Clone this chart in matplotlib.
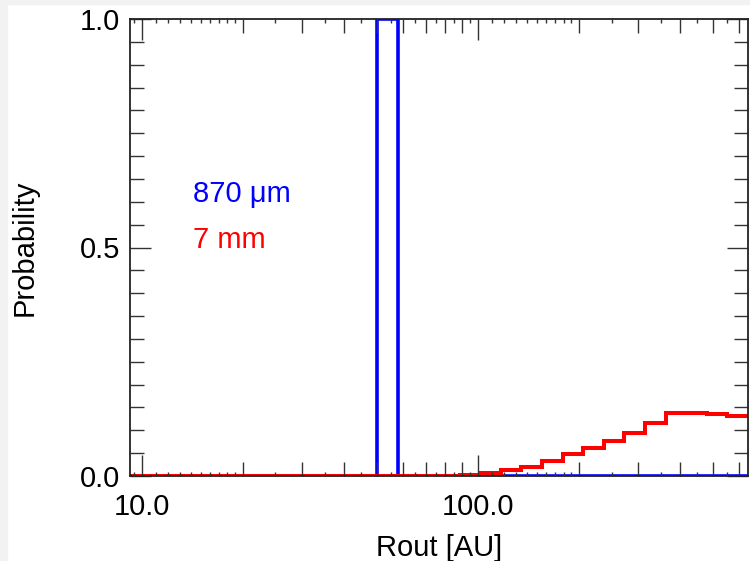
import matplotlib
matplotlib.use("Agg")
import matplotlib.pyplot as plt
from matplotlib.patches import Rectangle
from matplotlib.ticker import FixedLocator, FixedFormatter, NullFormatter

plt.rcParams['font.family'] = ['Liberation Sans', 'DejaVu Sans']

# log-spaced bin edges for Rout [AU]
bin_edges = [9.23, 10.62, 12.24, 14.09, 16.23, 18.69, 21.52, 24.78, 28.54,
             32.86, 37.84, 43.58, 50.18, 57.79, 66.55, 76.64, 88.26, 101.6,
             117.0, 134.8, 155.2, 178.7, 205.9, 237.1, 273.0, 314.5, 362.2,
             417.1, 480.3, 553.1, 636.8]

# probability per bin
prob_870um = [0, 0, 0, 0, 0, 0, 0, 0, 0, 0, 0, 0, 1.0, 0, 0, 0, 0, 0,
              0, 0, 0, 0, 0, 0, 0, 0, 0, 0, 0, 0]
prob_7mm = [0, 0, 0, 0, 0, 0, 0, 0, 0, 0, 0, 0, 0, 0, 0, 0.001, 0.002,
            0.0066, 0.0124, 0.020, 0.0335, 0.048, 0.0605, 0.0766, 0.0933,
            0.1167, 0.1386, 0.1386, 0.135, 0.1306]

x_major = [10, 100]
x_major_labels = ['10.0', '100.0']
x_minor = [20, 30, 40, 50, 60, 70, 80, 90, 200, 300, 400, 500, 600]
x_tiny = [9.5, 11, 12, 13, 14, 15, 16, 17, 18, 19, 25, 35, 45, 55, 65, 75,
          85, 95, 110, 120, 130, 140, 150, 160, 170, 180, 190, 250, 350,
          450, 550]
y_major = [0.0, 0.5, 1.0]
y_major_labels = ['0.0', '0.5', '1.0']
y_minor = [0.05 * i for i in range(1, 20) if i != 10]

FS = 21

fig = plt.figure(figsize=(7.5, 5.61), dpi=100)
# light grey border strips like the original screenshot
fig.patches.append(Rectangle((0, 0), 7 / 750, 1, transform=fig.transFigure,
                             color='#f2f2f2', zorder=0))
fig.patches.append(Rectangle((0, 1 - 4 / 561), 1, 4 / 561,
                             transform=fig.transFigure, color='#f2f2f2', zorder=0))

pos = [130 / 750, 1 - 476 / 561, 618 / 750, 457 / 561]
ax = fig.add_axes(pos)

ax.stairs(prob_870um, bin_edges, color='#0000ff', lw=2.6, baseline=None)
ax.stairs(prob_7mm, bin_edges, color='#ff0000', lw=2.9, baseline=None)

ax.set_xscale('log')
ax.set_xlim(bin_edges[0], bin_edges[-1])
ax.set_ylim(0, 1.0)

ax.xaxis.set_major_locator(FixedLocator(x_major))
ax.xaxis.set_major_formatter(FixedFormatter(x_major_labels))
ax.xaxis.set_minor_locator(FixedLocator(x_minor))
ax.xaxis.set_minor_formatter(NullFormatter())
ax.yaxis.set_major_locator(FixedLocator(y_major))
ax.yaxis.set_major_formatter(FixedFormatter(y_major_labels))
ax.yaxis.set_minor_locator(FixedLocator(y_minor))

ax.tick_params(which='both', direction='in', top=True, right=True,
               color='#333333', width=1.0, labelsize=FS)
ax.tick_params(which='major', length=15)
ax.tick_params(which='minor', length=10)
ax.tick_params(axis='x', which='major', pad=12)
ax.tick_params(axis='y', which='major', pad=7)
for sp in ax.spines.values():
    sp.set_linewidth(1.3)
    sp.set_color('#222222')

# tiny ticks on the x axis (third tick level)
ax_t = fig.add_axes(pos, frameon=False)
ax_t.set_xscale('log')
ax_t.set_xlim(bin_edges[0], bin_edges[-1])
ax_t.set_ylim(0, 1.0)
ax_t.xaxis.set_major_locator(FixedLocator(x_tiny))
ax_t.xaxis.set_minor_locator(FixedLocator([]))
ax_t.tick_params(axis='x', direction='in', top=True, bottom=True, length=3,
                 width=1.0, color='#333333', labelbottom=False)
ax_t.set_yticks([])
ax_t.patch.set_visible(False)

ax.set_xlabel('Rout [AU]', fontsize=FS)
ax.xaxis.set_label_coords(0.5, -0.126)
ax.set_ylabel('Probability', fontsize=FS)
ax.yaxis.set_label_coords(-0.148, 0.5)

ax.text(14.2, 0.6, '870 \u03bcm', color='#0000ff', fontsize=FS,
        ha='left', va='baseline')
ax.text(14.2, 0.5, '7 mm', color='#ff0000', fontsize=FS,
        ha='left', va='baseline')

fig.savefig('out.png', dpi=100)
